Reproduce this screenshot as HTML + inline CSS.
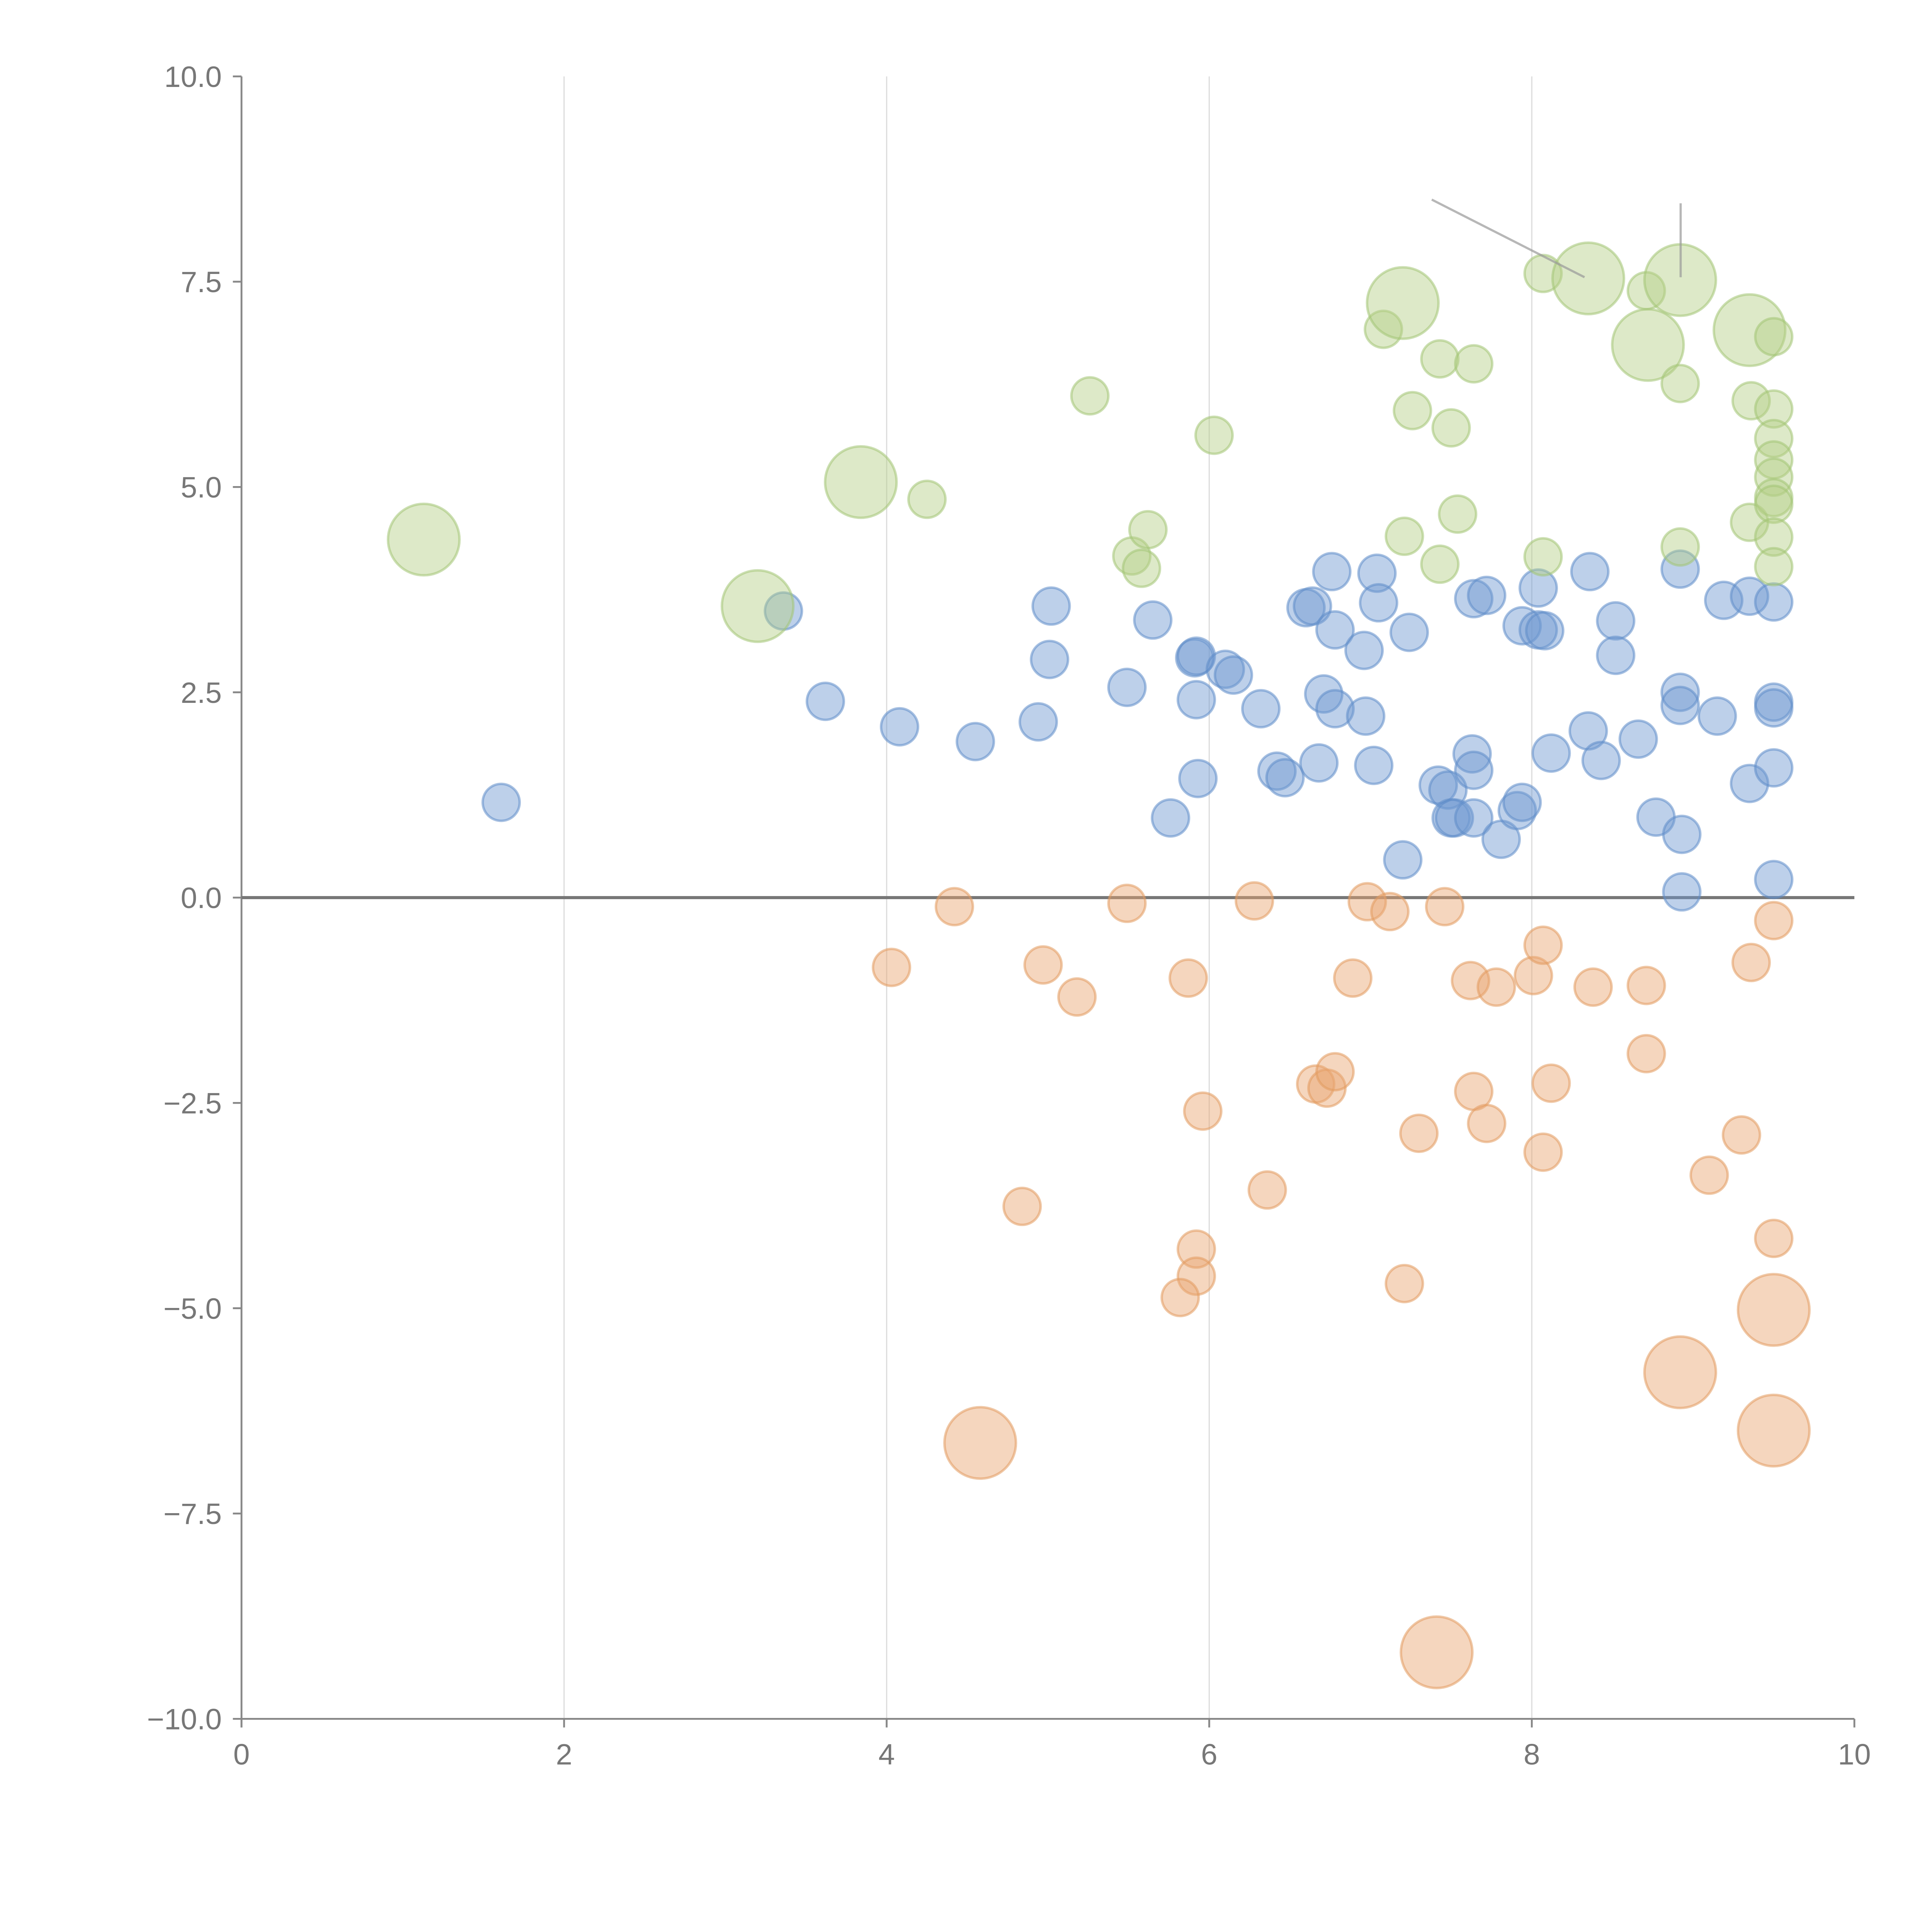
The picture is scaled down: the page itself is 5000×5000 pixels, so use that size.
<!DOCTYPE html>
<html><head><meta charset="utf-8"><style>
html,body{margin:0;padding:0;background:#fff}
svg{display:block}
text{font-family:"Liberation Sans",sans-serif;fill:#777}
</style></head><body>
<svg id="chart" width="5000" height="5000" viewBox="0 0 1568 1568" xmlns="http://www.w3.org/2000/svg">
<g id="grid"></g>
<g id="axes"></g>
<g id="marks"></g>
</svg>
<script>
const xTicks=[0,2,4,6,8,10];
const yTicks=[-10,-7.5,-5,-2.5,0,2.5,5,7.5,10];
const yTickLabels=["\u221210.0","\u22127.5","\u22125.0","\u22122.5","0.0","2.5","5.0","7.5","10.0"];
const blueX=[1.61,3.36,3.62,4.08,4.55,4.94,5.02,5.01,5.49,5.65,5.91,5.92,5.92,5.93,5.76,6.10,6.15,6.32,6.42,6.47,6.60,6.64,6.76,6.78,6.71,6.78,6.68,6.96,6.97,7.04,7.05,7.02,7.24,7.20,7.42,7.48,7.50,7.52,7.63,7.64,7.64,7.64,7.72,7.81,7.91,7.94,7.94,8.04,8.04,8.08,8.12,8.36,8.35,8.43,8.52,8.52,8.66,8.77,8.92,8.92,8.92,8.93,8.93,9.15,9.19,9.35,9.35,9.50,9.50,9.50,9.50,9.50];
const blueY=[1.16,3.49,2.39,2.08,1.90,2.14,3.55,2.90,2.56,3.38,2.92,2.94,2.41,1.45,0.97,2.78,2.71,2.30,1.54,1.46,3.53,3.55,3.97,3.26,2.48,2.30,1.64,3.01,2.21,3.95,3.59,1.61,3.23,0.46,1.37,1.31,0.97,0.97,1.75,1.55,0.97,3.64,3.68,0.71,1.06,1.16,3.31,3.77,3.26,3.25,1.76,3.97,2.03,1.67,3.37,2.95,1.93,0.98,4.00,2.50,2.34,0.77,0.07,2.21,3.62,3.67,1.39,3.60,2.38,2.31,1.58,0.22];
const greenX=[1.13,3.20,3.84,4.25,5.26,5.52,5.58,5.62,6.03,7.08,7.20,7.26,7.21,7.43,7.43,7.50,7.54,7.64,8.07,8.07,8.35,8.71,8.72,8.92,8.92,8.92,9.35,9.36,9.35,9.50,9.50,9.50,9.50,9.50,9.50,9.50,9.50,9.50];
const greenY=[4.36,3.55,5.06,4.85,6.11,4.16,4.01,4.48,5.63,6.92,7.24,5.93,4.40,6.56,4.06,5.72,4.67,6.50,7.60,4.15,7.54,7.39,6.73,7.52,6.26,4.27,6.91,6.05,4.57,6.83,5.95,5.59,5.33,5.12,4.87,4.79,4.39,4.03];
const greenSize=[2,2,2,1,1,1,1,1,1,1,2,1,1,1,1,1,1,1,1,1,2,1,2,2,1,1,2,1,1,1,1,1,1,1,1,1,1,1];
const orangeX=[4.03,4.42,4.97,5.18,5.49,4.84,4.58,5.87,5.96,5.92,5.92,5.82,6.28,6.36,6.66,6.73,6.78,6.89,6.98,7.12,7.30,7.21,7.41,7.46,7.62,7.78,7.64,7.72,8.01,8.07,8.12,8.07,8.38,8.71,8.71,8.92,9.10,9.30,9.36,9.50,9.50,9.50,9.50];
const orangeY=[-0.85,-0.11,-0.82,-1.21,-0.07,-3.76,-6.64,-0.98,-2.60,-4.28,-4.61,-4.87,-0.04,-3.56,-2.27,-2.32,-2.12,-0.98,-0.05,-0.17,-2.87,-4.70,-9.19,-0.11,-1.01,-1.09,-2.36,-2.75,-0.95,-0.58,-2.26,-3.10,-1.09,-1.07,-1.90,-5.78,-3.38,-2.89,-0.79,-0.28,-4.15,-5.02,-6.49];
const orangeSize=[1,1,1,1,1,1,2,1,1,1,1,1,1,1,1,1,1,1,1,1,1,1,2,1,1,1,1,1,1,1,1,1,1,1,1,2,1,1,1,1,1,2,2];

const X0=196,X1=1505,Y0=1395,Y1=62;
const sx=v=>X0+(v-0)/(10-0)*(X1-X0);
const sy=v=>Y0-(v+10)/20*(Y0-Y1);
const rad=s=>s===2?29:15;
const NS="http://www.w3.org/2000/svg";
function mk(tag,attrs,parent){const e=document.createElementNS(NS,tag);for(const k in attrs)e.setAttribute(k,attrs[k]);parent.appendChild(e);return e;}
const grid=document.getElementById('grid'),axes=document.getElementById('axes'),marks=document.getElementById('marks');
xTicks.forEach(t=>{
  if(t>0&&t<10){const g=mk('line',{x1:sx(t),x2:sx(t),y1:Y1,y2:Y0,stroke:'#ddd','stroke-width':1},grid);
  
  }
  const tk=mk('line',{x1:sx(t),x2:sx(t),y1:Y0,y2:Y0+7,stroke:'#888','stroke-width':1.5},axes);
  
  
  const tx=mk('text',{x:sx(t),y:Y0+37,'text-anchor':'middle','font-size':24},axes);tx.textContent=t;
  
  
});
yTicks.forEach((t,i)=>{
  const tk=mk('line',{x1:X0-7,x2:X0,y1:sy(t),y2:sy(t),stroke:'#888','stroke-width':1.5},axes);
  
  
  const tx=mk('text',{x:X0-16,y:sy(t)+8.5,'text-anchor':'end','font-size':24},axes);tx.textContent=yTickLabels[i];
  
  
});
const ya=mk('line',{x1:X0,x2:X0,y1:Y1,y2:Y0+7,stroke:'#888','stroke-width':1.5},axes);


const xa=mk('line',{x1:X0,x2:X1,y1:Y0,y2:Y0,stroke:'#888','stroke-width':1.5},axes);


const zl=mk('line',{x1:X0,x2:X1,y1:sy(0),y2:sy(0),stroke:'#777','stroke-width':2.5},axes);


function series(xs,ys,sizes,fill,stroke,name){
  xs.forEach((x,i)=>{
    const c=mk('circle',{cx:sx(x),cy:sy(ys[i]),r:rad(sizes?sizes[i]:1),fill:fill,'fill-opacity':0.45,stroke:stroke,'stroke-opacity':0.55,'stroke-width':2},marks);
    
    
  });
}
series(blueX,blueY,null,'#6d97d0','#5f8cc8','blue-bubble');
series(greenX,greenY,greenSize,'#b3cf86','#a3c474','green-bubble');
series(orangeX,orangeY,orangeSize,'#e9a56f','#e29a5e','orange-bubble');
const l1=mk('line',{x1:1162,y1:162,x2:1286,y2:225,stroke:'#999','stroke-opacity':0.7,'stroke-width':1.8},marks);


const l2=mk('line',{x1:1364,y1:165,x2:1364,y2:225,stroke:'#999','stroke-opacity':0.7,'stroke-width':1.8},marks);


</script>
</body></html>
